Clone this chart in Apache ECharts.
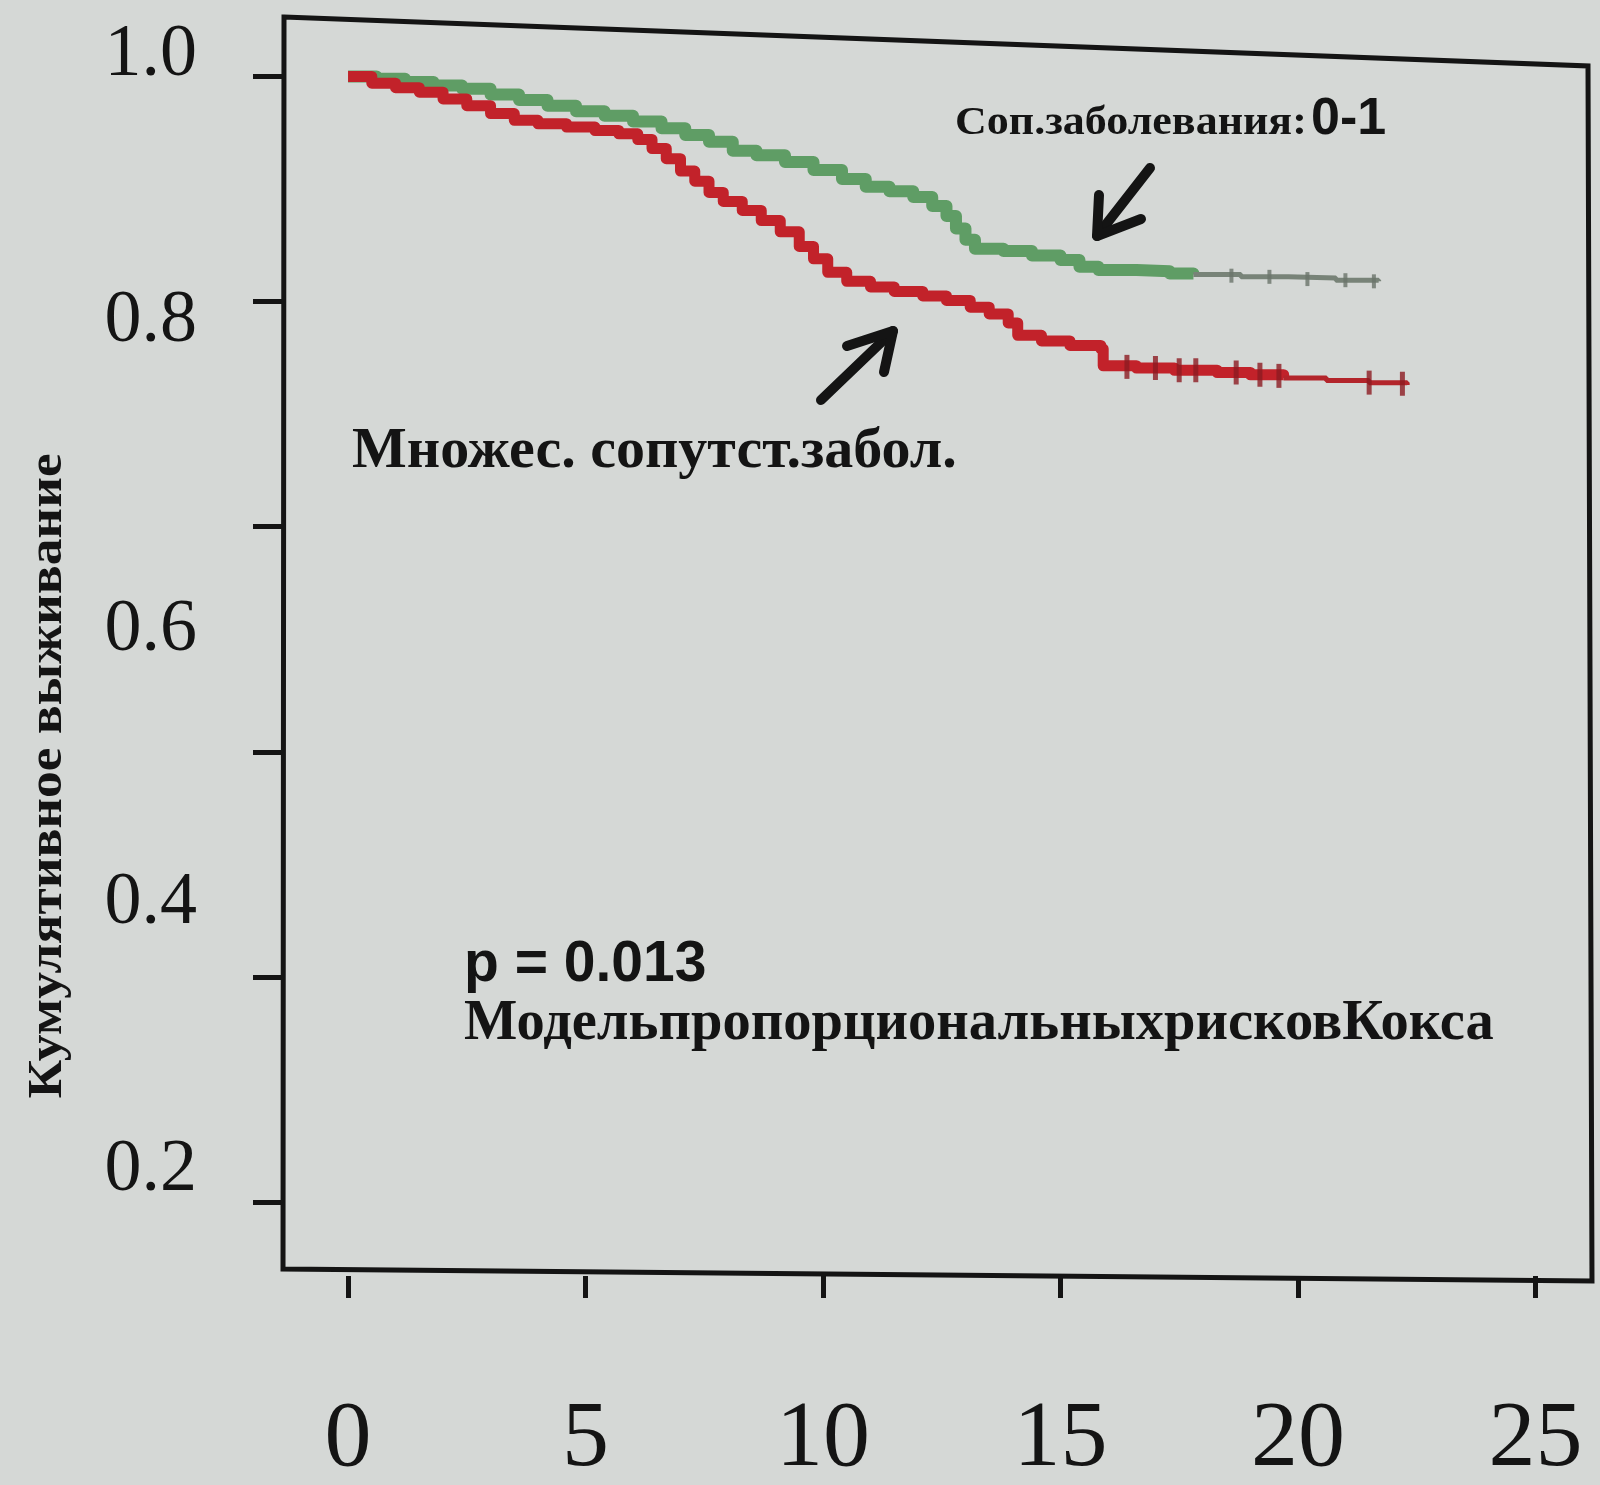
<!DOCTYPE html>
<html>
<head>
<meta charset="utf-8">
<script src="https://cdn.jsdelivr.net/npm/echarts@6/dist/echarts.min.js"></script>
<style>
  html, body { margin: 0; padding: 0; background: #d5d8d6; }
  #chart { width: 1600px; height: 1485px; }
</style>
</head>
<body>
<div id="chart"></div>
<script>
// ---- Data ----
// Group: "Соп.заболевания: 0-1" (green)
const greenTime  = [0, 0.6, 1.2, 1.8, 2.4, 3.0, 3.6, 4.2, 4.8, 5.4, 6.0, 6.6, 7.1, 7.6, 8.1, 8.6, 9.2, 9.8, 10.4, 10.9, 11.4, 11.9, 12.3, 12.6, 12.8, 13.0, 13.2, 13.8, 14.4, 15.0, 15.4, 15.8, 16.6, 17.3, 17.8];
const greenSurv  = [1.000, 0.998, 0.995, 0.992, 0.989, 0.984, 0.979, 0.974, 0.969, 0.965, 0.960, 0.954, 0.948, 0.942, 0.934, 0.930, 0.924, 0.917, 0.909, 0.902, 0.898, 0.893, 0.885, 0.876, 0.865, 0.855, 0.847, 0.845, 0.841, 0.837, 0.831, 0.828, 0.827, 0.825, 0.824];
const greenTailTime = [17.8, 18.8, 19.8, 20.8, 21.7];
const greenTailSurv = [0.824, 0.822, 0.821, 0.819, 0.818];
const greenCensorTime = [18.6, 19.4, 20.2, 21.0, 21.6];
const greenCensorSurv = [0.823, 0.822, 0.820, 0.819, 0.818];

// Group: "Множес. сопутст.забол." (red)
const redTime = [0, 0.5, 1.0, 1.5, 2.0, 2.5, 3.0, 3.5, 4.0, 4.6, 5.2, 5.7, 6.1, 6.4, 6.7, 7.0, 7.3, 7.6, 7.9, 8.3, 8.7, 9.1, 9.5, 9.8, 10.1, 10.5, 11.0, 11.5, 12.1, 12.6, 13.1, 13.5, 13.9, 14.1, 14.6, 15.2, 15.85, 15.9, 16.6, 17.4, 18.3, 19.0, 19.7];
const redSurv = [1.000, 0.994, 0.990, 0.986, 0.980, 0.974, 0.967, 0.961, 0.958, 0.955, 0.952, 0.949, 0.944, 0.936, 0.927, 0.916, 0.907, 0.897, 0.889, 0.881, 0.872, 0.862, 0.849, 0.838, 0.826, 0.818, 0.813, 0.809, 0.805, 0.801, 0.795, 0.789, 0.781, 0.770, 0.765, 0.761, 0.758, 0.743, 0.741, 0.739, 0.737, 0.735, 0.732];
const redTailTime = [19.7, 20.6, 21.5, 22.3];
const redTailSurv = [0.732, 0.730, 0.728, 0.726];
const redCensorTime = [16.4, 17.0, 17.5, 17.85, 18.7, 19.2, 19.6, 21.5, 22.2];
const redCensorSurv = [0.742, 0.741, 0.739, 0.739, 0.737, 0.735, 0.734, 0.728, 0.727];

// Axes
const xTickValues = [0, 5, 10, 15, 20, 25];
const yTickValues = [0, 0.2, 0.4, 0.6, 0.8, 1.0];
const yTickLabels = ['1.0', '0.8', '0.6', '0.4', '0.2'];
// where the (photographed) y labels sit, expressed on the survival scale
const yTickLabelAt = [1.0182, 0.7819, 0.5074, 0.2649, 0.0276];

// Texts
const yAxisTitle = 'Кумулятивное выживание';
const greenLabel = 'Соп.заболевания:';
const greenLabelSuffix = '0-1';
const redLabel = 'Множес. сопутст.забол.';
const pValueText = 'p = 0.013';
const modelText = 'МодельпропорциональныхрисковКокса';

// ---- Chart ----
const zip = (a, b) => a.map((v, i) => [v, b[i]]);
const chart = echarts.init(document.getElementById('chart'), null, { renderer: 'canvas' });
const ink = '#141414';
const serif = '"Liberation Serif", "Times New Roman", serif';
const sans = '"Liberation Sans", Arial, sans-serif';

const option = {
  animation: false,
  backgroundColor: '#d5d8d6',
  grid: { left: 283, right: 10, top: 40, bottom: 209, containLabel: false, outerBoundsMode: 'none', show: false },
  xAxis: {
    type: 'value', min: -1.37, max: 26.15,
    axisLine: { show: false, onZero: false },
    splitLine: { show: false },
    axisTick: { show: true, customValues: xTickValues, length: 22, lineStyle: { color: ink, width: 5 } },
    axisLabel: { customValues: xTickValues, margin: 117, fontSize: 94, fontFamily: serif, color: ink }
  },
  yAxis: {
    type: 'value', min: -0.0657, max: 1.0324,
    axisLine: { show: false, onZero: false },
    splitLine: { show: false },
    axisTick: { show: true, customValues: yTickValues, length: 30, lineStyle: { color: ink, width: 5 } },
    axisLabel: {
      customValues: yTickLabelAt, margin: 86, fontSize: 74, fontFamily: serif, color: ink,
      formatter: (v) => {
        let best = 0, d = 1e9;
        yTickLabelAt.forEach((p, i) => { if (Math.abs(p - v) < d) { d = Math.abs(p - v); best = i; } });
        return yTickLabels[best];
      }
    }
  },
  series: [
    { type: 'line', step: 'end', data: zip(greenTime, greenSurv), showSymbol: false, z: 2,
      lineStyle: { color: '#5f9d65', width: 12, join: 'round' } },
    { type: 'line', step: 'end', data: zip(greenTailTime, greenTailSurv), showSymbol: false, z: 2,
      lineStyle: { color: '#788378', width: 5 } },
    { type: 'scatter', data: zip(greenCensorTime, greenCensorSurv), symbol: 'rect', symbolSize: [4, 14], z: 2,
      itemStyle: { color: '#6a746a' } },
    { type: 'line', step: 'end', data: zip(redTime, redSurv), showSymbol: false, z: 3,
      lineStyle: { color: '#c2222a', width: 11, join: 'round' } },
    { type: 'line', step: 'end', data: zip(redTailTime, redTailSurv), showSymbol: false, z: 3,
      lineStyle: { color: '#b3252b', width: 5 } },
    { type: 'scatter', data: zip(redCensorTime, redCensorSurv), symbol: 'rect', symbolSize: [5, 24], z: 3,
      itemStyle: { color: '#8c1c22' } }
  ],
  graphic: [
    // plot frame (photographed slightly in perspective)
    { type: 'polygon', z: 10, shape: { points: [[284, 17], [1588, 66], [1592, 1281], [283, 1269]] },
      style: { fill: null, stroke: ink, lineWidth: 5, lineJoin: 'miter' } },
    // y axis title
    { type: 'text', z: 10, x: 48, y: 776, rotation: Math.PI / 2, scaleX: 1.09,
      style: { text: yAxisTitle, fontSize: 49, fontWeight: 'bold', fontFamily: serif, fill: ink,
               textAlign: 'center', textVerticalAlign: 'middle' } },
    // group labels
    { type: 'text', z: 10, x: 955, y: 124, scaleX: 1.1,
      style: { text: greenLabel, fontSize: 40, fontWeight: 'bold', fontFamily: serif, fill: ink,
               textAlign: 'left', textVerticalAlign: 'middle' } },
    { type: 'text', z: 10, x: 1311, y: 120,
      style: { text: greenLabelSuffix, fontSize: 52, fontWeight: 'bold', fontFamily: sans, fill: ink,
               textAlign: 'left', textVerticalAlign: 'middle' } },
    { type: 'text', z: 10, x: 352, y: 452,
      style: { text: redLabel, fontSize: 58, fontWeight: 'bold', fontFamily: serif, fill: ink,
               textAlign: 'left', textVerticalAlign: 'middle' } },
    { type: 'text', z: 10, x: 464, y: 965,
      style: { text: pValueText, fontSize: 57, fontWeight: 'bold', fontFamily: sans, fill: ink,
               textAlign: 'left', textVerticalAlign: 'middle' } },
    { type: 'text', z: 10, x: 464, y: 1024,
      style: { text: modelText, fontSize: 56.5, fontWeight: 'bold', fontFamily: serif, fill: ink,
               textAlign: 'left', textVerticalAlign: 'middle' } },
    // arrows
    { type: 'polyline', z: 10, shape: { points: [[1150, 168], [1097, 236]] },
      style: { stroke: ink, lineWidth: 10, lineCap: 'round', fill: null } },
    { type: 'polyline', z: 10, shape: { points: [[1099, 195], [1097, 236], [1141, 219]] },
      style: { stroke: ink, lineWidth: 10, lineCap: 'round', lineJoin: 'round', fill: null } },
    { type: 'polyline', z: 10, shape: { points: [[821, 400], [893, 331]] },
      style: { stroke: ink, lineWidth: 10, lineCap: 'round', fill: null } },
    { type: 'polyline', z: 10, shape: { points: [[847, 346], [893, 331], [884, 372]] },
      style: { stroke: ink, lineWidth: 10, lineCap: 'round', lineJoin: 'round', fill: null } }
  ]
};
chart.setOption(option);
</script>
</body>
</html>
